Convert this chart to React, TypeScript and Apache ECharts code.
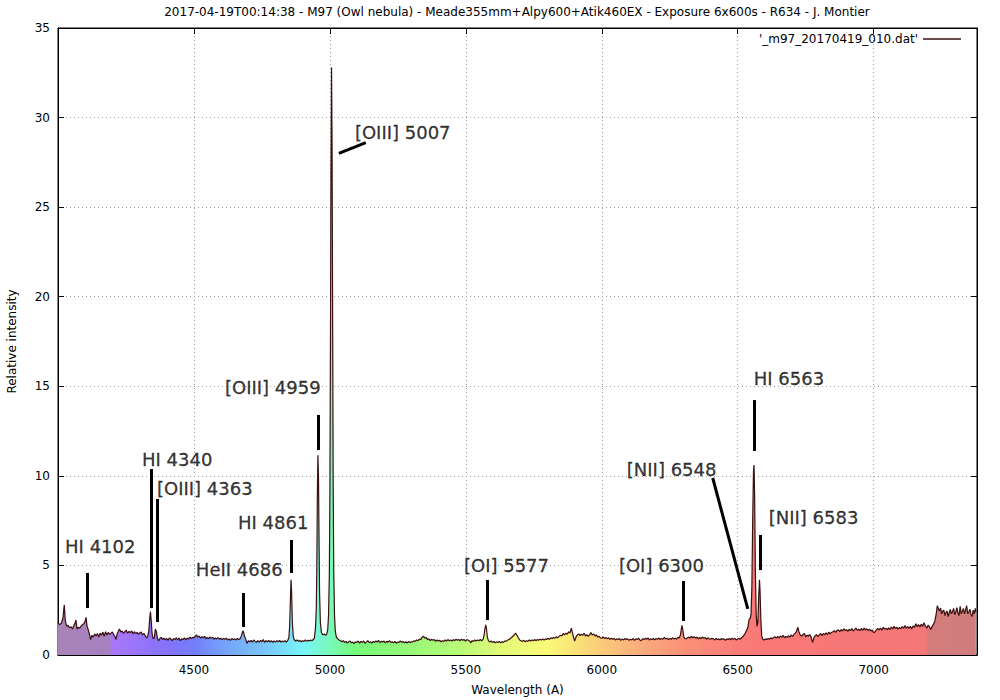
import React, { useEffect, useRef } from "react";
import * as echarts from "echarts";

const TITLE =
  "2017-04-19T00:14:38 - M97 (Owl nebula) - Meade355mm+Alpy600+Atik460EX - Exposure 6x600s - R634 - J. Montier";
const SERIES_NAME = "'_m97_20170419_010.dat'";
const X_NAME = "Wavelength (A)";
const Y_NAME = "Relative intensity";

// [wavelength (A), relative intensity]
const SPECTRUM: [number, number][] = [
  [4000, 1.78], [4006, 1.7], [4012, 1.76], [4018, 2.05], [4023, 2.8], [4027, 1.9], [4032, 1.6], [4037, 1.66],
  [4042, 1.52], [4048, 1.58], [4053, 1.45], [4058, 1.62], [4063, 1.8], [4066, 1.95], [4070, 1.45], [4075, 1.55],
  [4080, 1.5], [4085, 1.62], [4090, 1.7], [4095, 1.75], [4099, 1.85], [4103, 2.1], [4107, 1.6], [4111, 1.42],
  [4115, 1.2], [4120, 0.86], [4125, 1.1], [4130, 1.0], [4135, 1.18], [4140, 1.06], [4145, 1.2], [4150, 1.0],
  [4155, 1.22], [4160, 1.1], [4165, 1.28], [4170, 1.05], [4175, 1.3], [4180, 1.12], [4185, 1.26], [4190, 1.15],
  [4195, 1.22], [4200, 1.28], [4205, 1.12], [4209, 1.05], [4213, 0.86], [4218, 1.2], [4222, 1.32], [4226, 1.45],
  [4231, 1.28], [4236, 1.34], [4241, 1.2], [4246, 1.3], [4251, 1.38], [4256, 1.22], [4261, 1.32], [4266, 1.25],
  [4271, 1.34], [4276, 1.18], [4281, 1.3], [4286, 1.2], [4291, 1.26], [4296, 1.15], [4301, 1.24], [4306, 1.28],
  [4311, 1.12], [4316, 1.2], [4321, 1.08], [4326, 0.95], [4330, 1.05], [4334, 1.35], [4337, 2.0], [4340, 2.42],
  [4343, 1.9], [4346, 1.2], [4350, 0.9], [4354, 0.95], [4358, 1.45], [4362, 1.3], [4366, 0.9], [4370, 0.8],
  [4375, 0.92], [4380, 0.98], [4385, 0.86], [4390, 0.94], [4395, 0.84], [4400, 0.92], [4405, 0.82], [4410, 0.96],
  [4415, 0.88], [4420, 0.8], [4425, 0.92], [4430, 0.86], [4435, 0.96], [4440, 0.84], [4445, 0.95], [4450, 0.8],
  [4455, 0.9], [4460, 0.86], [4465, 0.96], [4470, 0.84], [4475, 0.94], [4480, 0.9], [4485, 1.0], [4490, 0.92],
  [4495, 0.98], [4500, 0.96], [4505, 1.05], [4509, 1.12], [4514, 1.0], [4519, 1.06], [4524, 0.94], [4529, 1.02],
  [4534, 0.96], [4539, 1.04], [4544, 0.9], [4549, 0.98], [4554, 0.92], [4559, 1.0], [4564, 0.94], [4569, 0.98],
  [4574, 0.88], [4579, 0.95], [4584, 0.9], [4589, 0.97], [4594, 0.88], [4599, 0.94], [4604, 0.86], [4609, 0.93],
  [4614, 0.88], [4619, 0.94], [4624, 0.84], [4629, 0.9], [4634, 0.82], [4639, 0.92], [4644, 0.86], [4649, 0.9],
  [4654, 0.84], [4659, 0.92], [4664, 0.86], [4669, 0.9], [4674, 1.05], [4678, 1.25], [4681, 1.36], [4685, 1.1],
  [4690, 0.9], [4695, 0.65], [4700, 0.8], [4705, 0.74], [4710, 0.82], [4715, 0.72], [4720, 0.84], [4725, 0.76],
  [4730, 0.7], [4735, 0.8], [4740, 0.72], [4745, 0.82], [4750, 0.74], [4755, 0.86], [4760, 0.7], [4765, 0.8],
  [4770, 0.74], [4775, 0.82], [4780, 0.72], [4785, 0.8], [4790, 0.7], [4795, 0.78], [4800, 0.72], [4805, 0.8],
  [4810, 0.74], [4815, 0.82], [4820, 0.72], [4825, 0.78], [4830, 0.74], [4835, 0.8], [4840, 0.72], [4845, 0.82],
  [4849, 0.95], [4852, 1.6], [4855, 3.2], [4857, 4.2], [4859, 3.6], [4862, 1.8], [4865, 1.05], [4869, 0.85],
  [4874, 0.78], [4879, 0.84], [4884, 0.76], [4889, 0.82], [4894, 0.74], [4899, 0.8], [4904, 0.76], [4909, 0.84],
  [4914, 0.76], [4919, 0.82], [4924, 0.78], [4929, 0.84], [4934, 0.8], [4939, 0.86], [4943, 0.95], [4947, 1.5],
  [4950, 2.6], [4952, 5.0], [4954, 9.0], [4956, 11.15], [4958, 10.0], [4960, 6.5], [4962, 3.5], [4965, 1.8],
  [4969, 1.25], [4974, 1.12], [4979, 1.18], [4984, 1.1], [4988, 1.15], [4992, 1.4], [4995, 2.2], [4998, 4.5],
  [5000, 9.0], [5002, 17.0], [5004, 27.0], [5006, 32.8], [5008, 28.5], [5010, 19.0], [5012, 10.0], [5014, 4.8],
  [5017, 2.2], [5020, 1.3], [5024, 1.0], [5029, 0.9], [5034, 0.84], [5039, 0.8], [5044, 0.74], [5049, 0.8],
  [5054, 0.7], [5059, 0.76], [5064, 0.66], [5069, 0.74], [5074, 0.78], [5079, 0.68], [5084, 0.72], [5089, 0.64],
  [5094, 0.74], [5099, 0.7], [5104, 0.78], [5109, 0.66], [5114, 0.76], [5119, 0.7], [5124, 0.78], [5129, 0.66],
  [5134, 0.72], [5139, 0.8], [5144, 0.7], [5149, 0.74], [5154, 0.66], [5159, 0.76], [5164, 0.7], [5169, 0.78],
  [5174, 0.72], [5179, 0.82], [5184, 0.7], [5189, 0.76], [5194, 0.72], [5199, 0.78], [5204, 0.68], [5209, 0.76],
  [5214, 0.72], [5219, 0.8], [5224, 0.7], [5229, 0.74], [5234, 0.68], [5239, 0.76], [5244, 0.66], [5249, 0.72],
  [5254, 0.7], [5259, 0.78], [5264, 0.7], [5269, 0.76], [5274, 0.68], [5279, 0.74], [5284, 0.66], [5289, 0.76],
  [5294, 0.7], [5299, 0.74], [5304, 0.72], [5309, 0.8], [5314, 0.76], [5319, 0.84], [5324, 0.8], [5329, 0.88],
  [5334, 0.86], [5339, 0.98], [5344, 1.05], [5349, 0.94], [5354, 0.98], [5359, 0.86], [5364, 0.9], [5369, 0.8],
  [5374, 0.88], [5379, 0.82], [5384, 0.86], [5389, 0.76], [5394, 0.84], [5399, 0.78], [5404, 0.82], [5409, 0.74],
  [5414, 0.8], [5419, 0.76], [5424, 0.84], [5429, 0.78], [5434, 0.86], [5439, 0.8], [5444, 0.84], [5449, 0.78],
  [5454, 0.86], [5459, 0.8], [5464, 0.88], [5469, 0.82], [5474, 0.86], [5479, 0.8], [5484, 0.88], [5489, 0.82],
  [5494, 0.86], [5499, 0.78], [5504, 0.86], [5509, 0.82], [5514, 0.78], [5518, 0.68], [5523, 0.8], [5528, 0.76],
  [5533, 0.84], [5538, 0.78], [5543, 0.84], [5548, 0.8], [5553, 0.86], [5558, 0.8], [5563, 0.86], [5567, 1.1],
  [5570, 1.45], [5573, 1.68], [5576, 1.45], [5579, 1.0], [5583, 0.8], [5588, 0.72], [5593, 0.78], [5598, 0.7],
  [5603, 0.76], [5608, 0.68], [5613, 0.74], [5618, 0.7], [5623, 0.76], [5628, 0.68], [5633, 0.74], [5638, 0.7],
  [5643, 0.78], [5648, 0.76], [5653, 0.82], [5658, 0.86], [5663, 0.9], [5668, 0.98], [5673, 1.05], [5678, 1.12],
  [5683, 1.22], [5688, 1.1], [5693, 0.96], [5698, 0.84], [5703, 0.8], [5708, 0.76], [5713, 0.82], [5718, 0.74],
  [5723, 0.8], [5728, 0.76], [5733, 0.84], [5738, 0.78], [5743, 0.84], [5748, 0.8], [5753, 0.86], [5758, 0.8],
  [5763, 0.86], [5768, 0.82], [5773, 0.88], [5778, 0.84], [5783, 0.9], [5788, 0.84], [5793, 0.9], [5798, 0.86],
  [5803, 0.94], [5808, 0.88], [5813, 0.96], [5818, 0.92], [5823, 0.98], [5828, 0.94], [5833, 1.02], [5838, 0.96],
  [5843, 1.04], [5848, 1.1], [5853, 1.06], [5858, 1.2], [5863, 1.12], [5868, 1.22], [5873, 1.16], [5878, 1.3],
  [5883, 1.22], [5888, 1.5], [5892, 1.25], [5896, 1.0], [5900, 0.78], [5905, 1.0], [5910, 1.12], [5915, 1.18],
  [5920, 1.08], [5925, 1.16], [5930, 1.1], [5935, 1.22], [5940, 1.06], [5945, 1.14], [5950, 1.04], [5955, 1.12],
  [5960, 1.25], [5965, 1.12], [5970, 1.18], [5975, 1.06], [5980, 1.12], [5985, 1.0], [5990, 1.04], [5995, 0.96],
  [6000, 0.94], [6005, 1.0], [6010, 0.92], [6015, 0.98], [6020, 0.9], [6025, 0.96], [6030, 0.88], [6035, 0.94],
  [6040, 0.88], [6045, 0.92], [6050, 0.84], [6055, 0.9], [6060, 0.86], [6065, 0.92], [6070, 0.82], [6075, 0.9],
  [6080, 0.84], [6085, 0.92], [6090, 0.86], [6095, 0.9], [6100, 0.82], [6105, 0.88], [6110, 0.84], [6115, 0.92],
  [6120, 0.82], [6125, 0.9], [6130, 0.86], [6135, 0.94], [6140, 0.84], [6145, 0.8], [6150, 0.9], [6155, 0.86],
  [6160, 0.94], [6165, 0.88], [6170, 0.96], [6175, 0.84], [6180, 0.9], [6185, 0.86], [6190, 0.92], [6195, 0.84],
  [6200, 0.92], [6205, 0.88], [6210, 0.96], [6215, 0.86], [6220, 0.92], [6225, 0.88], [6230, 0.98], [6235, 0.9],
  [6240, 0.94], [6245, 0.86], [6250, 0.92], [6255, 0.88], [6260, 0.96], [6265, 0.9], [6270, 0.94], [6275, 0.88],
  [6280, 0.98], [6285, 0.96], [6289, 1.1], [6292, 1.4], [6295, 1.65], [6298, 1.4], [6301, 1.05], [6305, 0.92],
  [6310, 0.9], [6315, 0.96], [6320, 1.0], [6325, 0.94], [6330, 1.05], [6335, 0.96], [6340, 1.02], [6345, 0.94],
  [6350, 1.0], [6355, 0.9], [6360, 0.98], [6365, 0.92], [6370, 1.0], [6375, 0.94], [6380, 0.98], [6385, 0.88],
  [6390, 0.96], [6395, 0.9], [6400, 0.88], [6405, 0.94], [6410, 0.9], [6415, 0.84], [6420, 0.92], [6425, 0.86],
  [6430, 0.9], [6435, 0.84], [6440, 0.92], [6445, 0.86], [6450, 0.9], [6455, 0.82], [6460, 0.9], [6465, 0.86],
  [6470, 0.92], [6475, 0.84], [6480, 0.94], [6485, 0.88], [6490, 0.92], [6495, 0.84], [6500, 0.9], [6505, 0.94],
  [6510, 0.88], [6515, 0.98], [6520, 1.05], [6525, 1.15], [6530, 1.3], [6534, 1.4], [6538, 1.6], [6542, 2.0],
  [6546, 2.05], [6549, 2.3], [6552, 3.8], [6555, 7.5], [6558, 10.3], [6560, 10.6], [6562, 9.0], [6565, 4.5],
  [6568, 2.2], [6571, 1.6], [6574, 1.8], [6577, 3.2], [6580, 4.2], [6582, 3.6], [6585, 2.0], [6588, 1.1],
  [6592, 0.88], [6597, 0.84], [6602, 0.9], [6607, 0.86], [6612, 0.92], [6617, 0.88], [6622, 0.96], [6627, 0.9],
  [6632, 0.98], [6637, 1.02], [6642, 0.94], [6647, 1.04], [6652, 0.96], [6657, 1.06], [6662, 0.98], [6667, 1.1],
  [6672, 0.96], [6677, 1.04], [6682, 0.98], [6687, 1.08], [6692, 1.0], [6697, 1.12], [6702, 1.04], [6707, 1.16],
  [6712, 1.22], [6717, 1.35], [6721, 1.55], [6725, 1.3], [6730, 1.12], [6735, 1.05], [6740, 1.14], [6745, 1.2],
  [6750, 1.02], [6755, 1.1], [6760, 1.06], [6765, 1.14], [6770, 1.0], [6775, 0.7], [6780, 0.96], [6785, 1.08],
  [6790, 1.14], [6795, 1.02], [6800, 1.12], [6805, 1.2], [6810, 1.08], [6815, 1.2], [6820, 1.12], [6825, 1.24],
  [6830, 1.14], [6835, 1.28], [6840, 1.18], [6845, 1.26], [6850, 1.3], [6855, 1.36], [6860, 1.26], [6865, 1.38],
  [6870, 1.4], [6875, 1.3], [6880, 1.42], [6885, 1.34], [6890, 1.46], [6895, 1.36], [6900, 1.42], [6905, 1.32],
  [6910, 1.44], [6915, 1.36], [6920, 1.48], [6925, 1.34], [6930, 1.42], [6935, 1.5], [6940, 1.38], [6945, 1.44],
  [6950, 1.36], [6955, 1.48], [6960, 1.38], [6965, 1.5], [6970, 1.4], [6975, 1.46], [6980, 1.36], [6985, 1.44],
  [6990, 1.34], [6995, 1.4], [7000, 1.24], [7005, 1.3], [7010, 1.4], [7015, 1.48], [7020, 1.4], [7025, 1.5],
  [7030, 1.38], [7035, 1.55], [7040, 1.44], [7045, 1.5], [7050, 1.4], [7055, 1.52], [7060, 1.42], [7065, 1.56],
  [7070, 1.46], [7075, 1.6], [7080, 1.48], [7085, 1.56], [7090, 1.44], [7095, 1.54], [7100, 1.46], [7105, 1.58],
  [7110, 1.5], [7115, 1.64], [7120, 1.5], [7125, 1.58], [7130, 1.48], [7135, 1.6], [7140, 1.46], [7145, 1.62],
  [7150, 1.54], [7155, 1.75], [7160, 1.58], [7165, 1.7], [7170, 1.56], [7175, 1.72], [7180, 1.6], [7185, 1.8],
  [7190, 1.62], [7195, 1.5], [7200, 1.66], [7205, 1.58], [7210, 1.42], [7215, 1.6], [7220, 1.72], [7225, 1.9],
  [7230, 2.3], [7234, 2.75], [7238, 2.6], [7242, 2.45], [7246, 2.62], [7250, 2.3], [7254, 2.44], [7258, 2.5],
  [7262, 2.2], [7266, 2.38], [7270, 2.45], [7274, 2.15], [7278, 2.36], [7282, 2.55], [7286, 2.3], [7290, 2.42],
  [7294, 2.6], [7298, 2.25], [7302, 2.4], [7306, 2.65], [7310, 2.35], [7314, 2.2], [7318, 2.72], [7322, 2.3],
  [7326, 2.45], [7330, 2.6], [7334, 2.3], [7338, 2.5], [7342, 2.75], [7346, 2.3], [7350, 2.4], [7354, 2.55],
  [7358, 2.25], [7362, 2.15], [7366, 2.5], [7370, 2.3], [7374, 2.6], [7376, 2.4],
];

// Emission line labels: [text, wavelength at left edge, intensity at vertical centre]
const LINE_LABELS: [string, number, number][] = [
  ["HI 4102", 4026, 6.03],
  ["HI 4340", 4309, 10.89],
  ["[OIII] 4363", 4364, 9.27],
  ["HeII 4686", 4507, 4.8],
  ["HI 4861", 4662, 7.42],
  ["[OIII] 4959", 4614, 14.96],
  ["[OIII] 5007", 5092, 29.14],
  ["[OI] 5577", 5493, 4.97],
  ["[OI] 6300", 6063, 4.97],
  ["[NII] 6548", 6092, 10.33],
  ["HI 6563", 6559, 15.46],
  ["[NII] 6583", 6614, 7.65],
];

// Pointer marks: [x1, y1, x2, y2] in data units
const LINE_MARKS: [number, number, number, number][] = [
  [4106, 2.62, 4106, 4.58],
  [4342, 2.62, 4342, 10.38],
  [4364, 1.84, 4364, 8.71],
  [4680, 1.56, 4680, 3.46],
  [4857, 4.58, 4857, 6.42],
  [4956, 11.44, 4956, 13.4],
  [5033, 28.0, 5132, 28.6],
  [5577, 1.95, 5577, 4.19],
  [6298, 1.9, 6298, 4.13],
  [6408, 9.88, 6537, 2.57],
  [6559, 11.39, 6559, 14.23],
  [6581, 4.74, 6581, 6.7],
];

const X_MIN = 4000;
const X_MAX = 7380;
const X_STEP = 500;
const Y_MIN = 0;
const Y_MAX = 35;
const Y_STEP = 5;

// Spectrum fill colours: [wavelength, colour]
const FILL_STOPS: [number, string][] = [
  [4000, "rgb(168,132,185)"],
  [4190, "rgb(166,128,192)"],
  [4200, "rgb(170,118,250)"],
  [4400, "rgb(132,115,250)"],
  [4500, "rgb(115,125,250)"],
  [4600, "rgb(115,160,250)"],
  [4750, "rgb(120,195,250)"],
  [4900, "rgb(120,245,250)"],
  [5000, "rgb(120,250,185)"],
  [5100, "rgb(120,250,120)"],
  [5300, "rgb(150,250,120)"],
  [5500, "rgb(190,250,120)"],
  [5650, "rgb(230,250,120)"],
  [5800, "rgb(250,250,120)"],
  [5950, "rgb(250,215,120)"],
  [6100, "rgb(250,180,125)"],
  [6300, "rgb(250,145,120)"],
  [6500, "rgb(250,125,120)"],
  [6600, "rgb(250,120,120)"],
  [7190, "rgb(245,120,120)"],
  [7200, "rgb(212,124,124)"],
  [7376, "rgb(208,124,124)"],
];

const FONT = "DejaVu Sans";

export default function App() {
  const ref = useRef<HTMLDivElement>(null);

  useEffect(() => {
    document.body.style.margin = "0";
    if (!ref.current) return;
    const chart = echarts.init(ref.current, undefined, { renderer: "svg" });
    const lo = SPECTRUM[0][0];
    const hi = SPECTRUM[SPECTRUM.length - 1][0];
    const gradient = new echarts.graphic.LinearGradient(
      0,
      0,
      1,
      0,
      FILL_STOPS.map(([w, c]) => ({ offset: (w - lo) / (hi - lo), color: c }))
    );
    const tickLabel = {
      fontFamily: FONT,
      fontSize: 12,
      color: "#000",
      formatter: (v: number) => String(v),
    };
    const gridLine = { show: true, lineStyle: { color: "#a0a0a0", type: [1, 3] as any, width: 1 } };
    const option: any = {
      animation: false,
      backgroundColor: "#fff",
      textStyle: { fontFamily: FONT },
      title: {
        text: TITLE,
        left: 517,
        top: 6,
        padding: 0,
        textAlign: "center",
        textStyle: { fontFamily: FONT, fontSize: 12, fontWeight: "normal", color: "#000" },
      },
      legend: {
        data: [{ name: SERIES_NAME, icon: "rect" }],
        right: 39,
        top: 33,
        padding: 0,
        align: "right",
        itemWidth: 38,
        itemHeight: 1.3,
        itemStyle: { color: "#3a1010", borderWidth: 0 },
        textStyle: { fontFamily: FONT, fontSize: 12, color: "#000" },
      },
      grid: {
        left: 58,
        right: 23,
        top: 28,
        bottom: 45,
        containLabel: false,
        outerBoundsMode: "none",
        show: true,
        borderColor: "#000",
        borderWidth: 1,
        backgroundColor: "transparent",
      },
      xAxis: [
        {
          type: "value",
          min: X_MIN,
          max: X_MAX,
          interval: X_STEP,
          name: X_NAME,
          nameLocation: "middle",
          nameGap: 29,
          nameTextStyle: { fontFamily: FONT, fontSize: 12, color: "#000" },
          axisLine: { show: true, onZero: false, lineStyle: { color: "#000", width: 1 } },
          axisTick: { show: true, inside: true, length: 6, lineStyle: { color: "#000" } },
          axisLabel: { ...tickLabel, margin: 9, showMinLabel: false, showMaxLabel: false },
          splitLine: gridLine,
        },
        {
          type: "value",
          position: "top",
          min: X_MIN,
          max: X_MAX,
          interval: X_STEP,
          axisLine: { show: true, onZero: false, lineStyle: { color: "#000", width: 1 } },
          axisTick: { show: true, inside: true, length: 6, lineStyle: { color: "#000" } },
          axisLabel: { show: false },
          splitLine: { show: false },
        },
      ],
      yAxis: [
        {
          type: "value",
          min: Y_MIN,
          max: Y_MAX,
          interval: Y_STEP,
          name: Y_NAME,
          nameLocation: "middle",
          nameGap: 40,
          nameTextStyle: { fontFamily: FONT, fontSize: 12, color: "#000" },
          axisLine: { show: true, onZero: false, lineStyle: { color: "#000", width: 1 } },
          axisTick: { show: true, inside: true, length: 6, lineStyle: { color: "#000" } },
          axisLabel: { ...tickLabel, margin: 8 },
          splitLine: gridLine,
        },
        {
          type: "value",
          position: "right",
          min: Y_MIN,
          max: Y_MAX,
          interval: Y_STEP,
          axisLine: { show: true, onZero: false, lineStyle: { color: "#000", width: 1 } },
          axisTick: { show: true, inside: true, length: 6, lineStyle: { color: "#000" } },
          axisLabel: { show: false },
          splitLine: { show: false },
        },
      ],
      series: [
        {
          name: SERIES_NAME,
          type: "line",
          xAxisIndex: 0,
          yAxisIndex: 0,
          data: SPECTRUM,
          symbol: "none",
          showSymbol: false,
          lineStyle: { color: "#3a1010", width: 1.2 },
          itemStyle: { color: "#3a1010" },
          areaStyle: { color: gradient, opacity: 1, origin: "start" },
          z: 2,
          markLine: {
            silent: true,
            symbol: ["none", "none"],
            label: { show: false },
            lineStyle: { color: "#000", width: 3, type: "solid" },
            emphasis: { disabled: true },
            data: LINE_MARKS.map(([x1, y1, x2, y2]) => [
              { coord: [x1, y1] },
              { coord: [x2, y2] },
            ]),
          },
        },
        {
          name: "labels",
          type: "scatter",
          xAxisIndex: 0,
          yAxisIndex: 0,
          symbolSize: 0,
          silent: true,
          z: 5,
          data: LINE_LABELS.map(([t, x, y]) => ({ value: [x, y], name: t })),
          label: {
            show: true,
            position: "right",
            distance: 0,
            formatter: (p: any) => p.name,
            fontFamily: FONT,
            fontSize: 18,
            color: "#000",
            textBorderColor: "#000",
            textBorderWidth: 0.3,
          },
        },
      ],
    };
    chart.setOption(option);
    return () => chart.dispose();
  }, []);

  return <div ref={ref} style={{ width: 1000, height: 700 }} />;
}
